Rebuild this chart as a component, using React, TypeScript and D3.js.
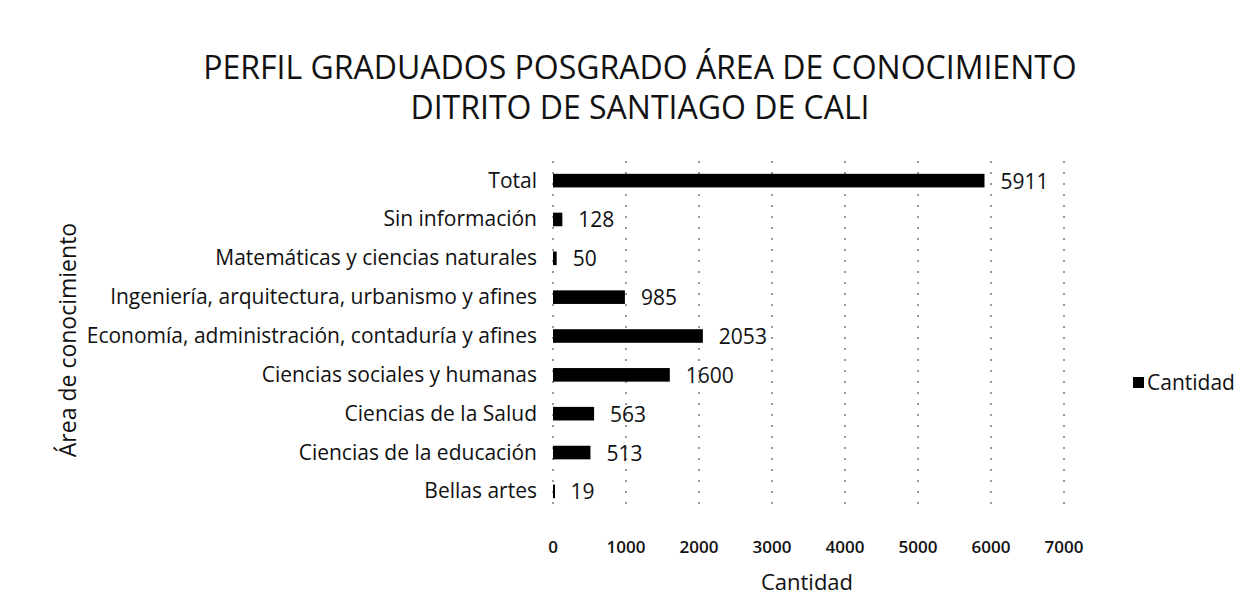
import { useEffect, useRef } from "react";
import * as d3 from "d3";

const categories = [
  "Total",
  "Sin información",
  "Matemáticas y ciencias naturales",
  "Ingeniería, arquitectura, urbanismo y afines",
  "Economía, administración, contaduría y afines",
  "Ciencias sociales y humanas",
  "Ciencias de la Salud",
  "Ciencias de la educación",
  "Bellas artes",
];
const values = [5911, 128, 50, 985, 2053, 1600, 563, 513, 19];
const xTicks = [0, 1000, 2000, 3000, 4000, 5000, 6000, 7000];

const W = 1255;
const H = 609;
const font = "'Open Sans', Lato, sans-serif";

export default function App() {
  const svgRef = useRef<SVGSVGElement>(null);

  useEffect(() => {
    const svg = d3.select(svgRef.current);
    svg.selectAll("*").remove();

    const left = 553;
    const right = 1064;
    const top = 161;
    const bottom = 511;

    const x = d3.scaleLinear().domain([0, 7000]).range([left, right]);
    const y = d3
      .scaleBand()
      .domain(categories)
      .range([top, bottom])
      .paddingInner(0.65)
      .paddingOuter(0.33);

    svg.append("rect").attr("width", W).attr("height", H).attr("fill", "#fff");

    // título
    const title = svg
      .append("text")
      .attr("text-anchor", "middle")
      .style("font-family", font)
      .style("font-size", "32px")
      .attr("fill", "#111");
    title.append("tspan").attr("x", 640).attr("y", 79).text("PERFIL GRADUADOS POSGRADO ÁREA DE CONOCIMIENTO");
    title.append("tspan").attr("x", 640).attr("y", 119).text("DITRITO DE SANTIAGO DE CALI");

    // líneas de cuadrícula punteadas
    svg
      .append("g")
      .selectAll("line")
      .data(xTicks)
      .join("line")
      .attr("x1", (d) => x(d))
      .attr("x2", (d) => x(d))
      .attr("y1", top)
      .attr("y2", bottom)
      .attr("stroke", "#333")
      .attr("stroke-width", 1)
      .attr("stroke-dasharray", "2,9");

    // barras
    svg
      .append("g")
      .selectAll("rect")
      .data(categories)
      .join("rect")
      .attr("x", x(0))
      .attr("y", (d) => y(d)!)
      .attr("width", (d, i) => Math.max(x(values[i]) - x(0), 2))
      .attr("height", y.bandwidth())
      .attr("fill", "#000");

    // etiquetas de valor
    svg
      .append("g")
      .selectAll("text")
      .data(categories)
      .join("text")
      .attr("x", (d, i) => x(values[i]) + 16)
      .attr("y", (d) => y(d)! + y.bandwidth() / 2 + 8)
      .style("font-family", font)
      .style("font-size", "21px")
      .attr("fill", "#111")
      .text((d, i) => values[i]);

    // etiquetas de categoría
    svg
      .append("g")
      .selectAll("text")
      .data(categories)
      .join("text")
      .attr("x", 537)
      .attr("y", (d) => y(d)! + y.bandwidth() / 2 + 7)
      .attr("text-anchor", "end")
      .style("font-family", font)
      .style("font-size", "21px")
      .attr("fill", "#111")
      .text((d) => d);

    // ticks eje x
    svg
      .append("g")
      .selectAll("text")
      .data(xTicks)
      .join("text")
      .attr("x", (d) => x(d))
      .attr("y", 553)
      .attr("text-anchor", "middle")
      .style("font-family", font)
      .style("font-size", "17px")
      .style("font-weight", 600)
      .attr("fill", "#111")
      .text((d) => d);

    svg
      .append("text")
      .attr("x", 807)
      .attr("y", 590)
      .attr("text-anchor", "middle")
      .style("font-family", font)
      .style("font-size", "22px")
      .attr("fill", "#111")
      .text("Cantidad");

    svg
      .append("text")
      .attr("transform", `translate(76,340) rotate(-90)`)
      .attr("text-anchor", "middle")
      .style("font-family", font)
      .style("font-size", "23px")
      .attr("fill", "#111")
      .text("Área de conocimiento");

    // leyenda
    const legend = svg.append("g").attr("transform", "translate(1133,383)");
    legend.append("rect").attr("x", 0).attr("y", -6).attr("width", 11).attr("height", 11).attr("fill", "#000");
    legend
      .append("text")
      .attr("x", 14)
      .attr("y", 7)
      .style("font-family", font)
      .style("font-size", "21px")
      .attr("fill", "#111")
      .text("Cantidad");
  }, []);

  return (
    <svg
      ref={svgRef}
      width={W}
      height={H}
      style={{ position: "absolute", left: 0, top: 0 }}
    ></svg>
  );
}
